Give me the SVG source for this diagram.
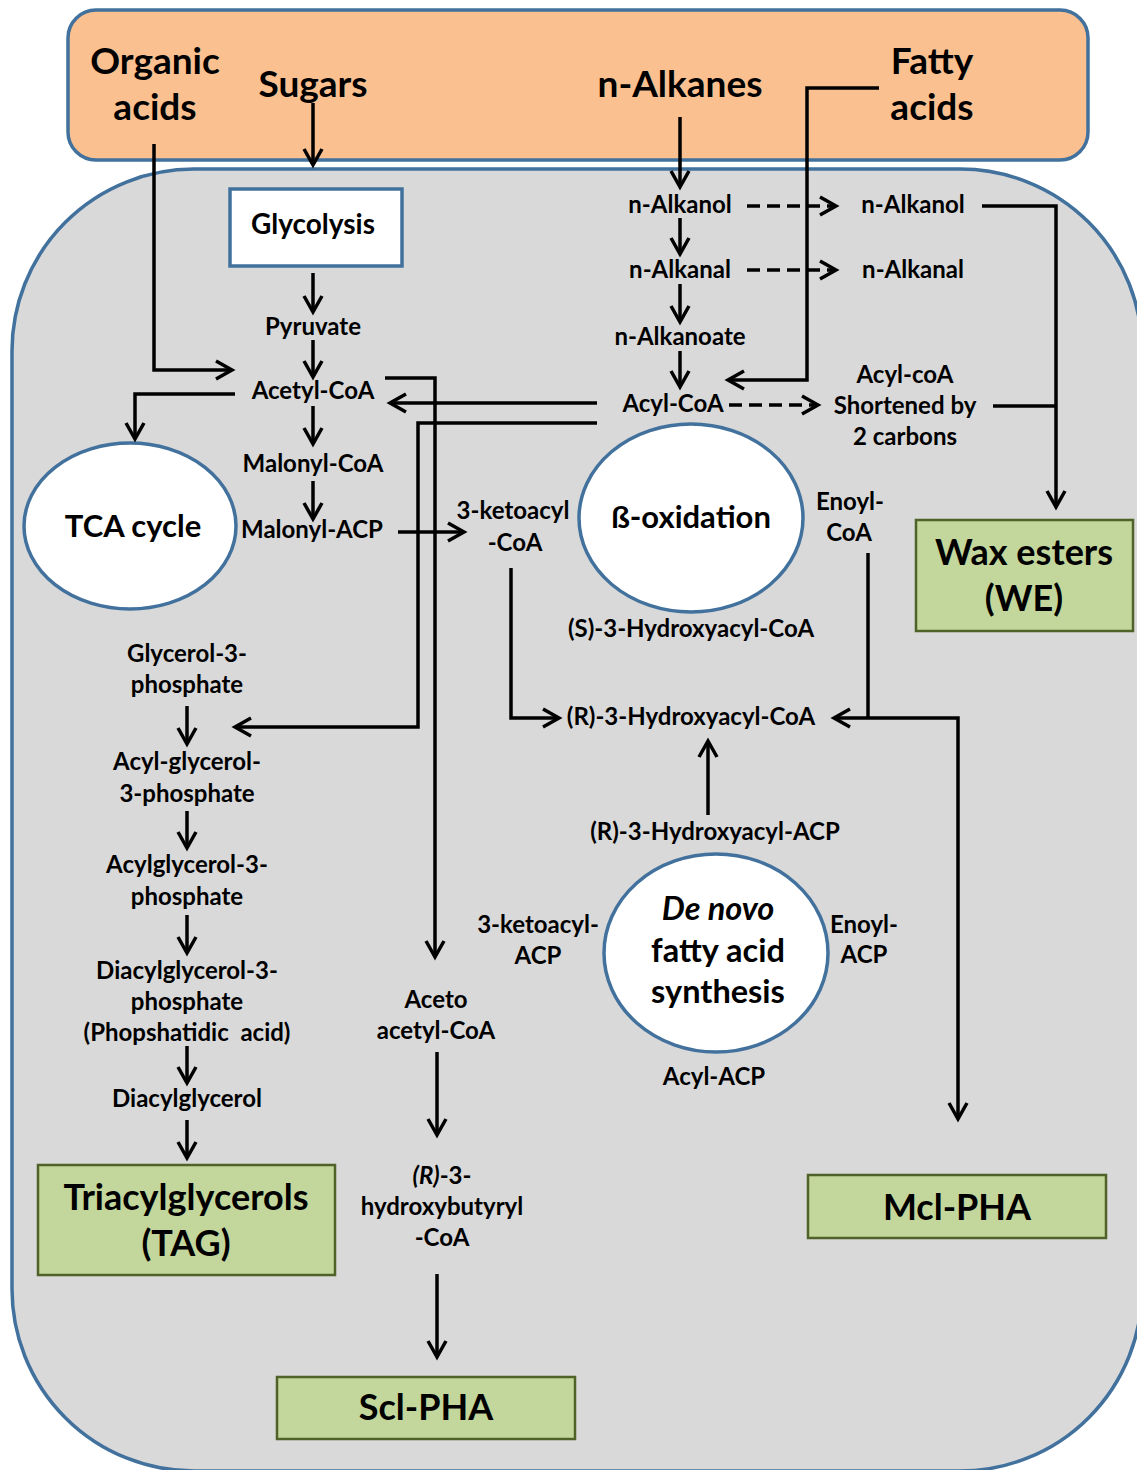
<svg xmlns="http://www.w3.org/2000/svg" width="1137" height="1470" viewBox="0 0 1137 1470">
<style>
.t{font-family:Lato,"Liberation Sans",sans-serif;font-weight:bold;fill:#000;text-anchor:middle}
.big{font-size:37px}
.lbl{font-size:24px}
.node{font-size:31px}
.dn{font-size:32.5px}
.prod{font-size:36px}
.c{fill:none;stroke:#000;stroke-width:3.5;marker-end:url(#ah)}
.nm{marker-end:none}
.d{stroke-dasharray:13 7}
.green{fill:#C3D69B;stroke:#4F6228;stroke-width:2.5}
.oval{fill:#fff;stroke:#41719C;stroke-width:3.5}
</style>
<defs>
<marker id="ah" viewBox="-20 -12 26 24" refX="0" refY="0" markerWidth="26" markerHeight="24" markerUnits="userSpaceOnUse" orient="auto-start-reverse">
<path d="M-16,-9 L0,0 L-16,9" fill="none" stroke="#000" stroke-width="3.5"/>
</marker>
</defs>

<g id="inputs">
<rect x="68" y="10" width="1020" height="150" rx="28" fill="#FAC090" stroke="#41719C" stroke-width="3.5"/>
<text class="t big" x="155" y="74">Organic</text>
<text class="t big" x="155" y="120">acids</text>
<text class="t big" x="313" y="97">Sugars</text>
<text class="t big" x="680" y="97">n-Alkanes</text>
<text class="t big" x="932" y="74">Fatty</text>
<text class="t big" x="932" y="120">acids</text>
</g>

<g id="cell">
<rect x="12" y="169" width="1130" height="1302" rx="182" fill="#D9D9D9" stroke="#41719C" stroke-width="3.5"/>
</g>

<g id="glycolysis">
<rect x="230" y="189" width="172" height="77" fill="#fff" stroke="#41719C" stroke-width="3.5"/>
<text class="t" x="313" y="234" font-size="28">Glycolysis</text>
</g>

<g id="pyruvate"><text class="t lbl" x="313" y="335">Pyruvate</text></g>
<g id="acetyl-coa"><text class="t lbl" x="313" y="399">Acetyl-CoA</text></g>
<g id="malonyl-coa"><text class="t lbl" x="313" y="472">Malonyl-CoA</text></g>
<g id="malonyl-acp"><text class="t lbl" x="312" y="538">Malonyl-ACP</text></g>
<g id="ketoacyl-coa"><text class="t lbl" x="513" y="519">3-ketoacyl</text><text class="t lbl" x="515" y="551">-CoA</text></g>

<g id="tca">
<ellipse cx="130" cy="526" rx="106" ry="83" class="oval"/>
<text class="t node" x="133" y="537">TCA cycle</text>
</g>

<g id="n-alkanol"><text class="t lbl" x="680" y="213">n-Alkanol</text></g>
<g id="n-alkanal"><text class="t lbl" x="680" y="278">n-Alkanal</text></g>
<g id="n-alkanoate"><text class="t lbl" x="680" y="345">n-Alkanoate</text></g>
<g id="acyl-coa"><text class="t lbl" x="673" y="412">Acyl-CoA</text></g>
<g id="n-alkanol-2"><text class="t lbl" x="913" y="213">n-Alkanol</text></g>
<g id="n-alkanal-2"><text class="t lbl" x="913" y="278">n-Alkanal</text></g>
<g id="acyl-coa-short">
<text class="t lbl" x="905" y="383">Acyl-coA</text>
<text class="t lbl" x="905" y="414">Shortened by</text>
<text class="t lbl" x="905" y="445">2 carbons</text>
</g>

<g id="wax-esters">
<rect x="916" y="520" width="217" height="111" class="green"/>
<text class="t prod" x="1024" y="565">Wax esters</text>
<text class="t prod" x="1024" y="611">(WE)</text>
</g>

<g id="beta-oxidation">
<ellipse cx="691" cy="518" rx="112" ry="94" class="oval"/>
<text class="t node" x="691" y="528">ß-oxidation</text>
</g>
<g id="enoyl-coa"><text class="t lbl" x="850" y="510">Enoyl-</text><text class="t lbl" x="849" y="541">CoA</text></g>
<g id="s-hydroxyacyl-coa"><text class="t lbl" x="691" y="637">(S)-3-Hydroxyacyl-CoA</text></g>
<g id="r-hydroxyacyl-coa"><text class="t lbl" x="691" y="725">(R)-3-Hydroxyacyl-CoA</text></g>
<g id="r-hydroxyacyl-acp"><text class="t lbl" x="715" y="840">(R)-3-Hydroxyacyl-ACP</text></g>

<g id="de-novo">
<ellipse cx="716" cy="953" rx="112" ry="99" class="oval"/>
<text class="t dn" x="718" y="920" font-style="italic">De novo</text>
<text class="t dn" x="718" y="962">fatty acid</text>
<text class="t dn" x="718" y="1003">synthesis</text>
</g>
<g id="ketoacyl-acp"><text class="t lbl" x="538" y="933">3-ketoacyl-</text><text class="t lbl" x="538" y="964">ACP</text></g>
<g id="enoyl-acp"><text class="t lbl" x="864" y="933">Enoyl-</text><text class="t lbl" x="864" y="963">ACP</text></g>
<g id="acyl-acp"><text class="t lbl" x="714" y="1085">Acyl-ACP</text></g>

<g id="mcl-pha">
<rect x="808" y="1175" width="298" height="63" class="green"/>
<text class="t prod" x="957" y="1220">Mcl-PHA</text>
</g>

<g id="glycerol-3-phosphate"><text class="t lbl" x="187" y="662">Glycerol-3-</text><text class="t lbl" x="187" y="693">phosphate</text></g>
<g id="acyl-glycerol-3-phosphate"><text class="t lbl" x="187" y="770">Acyl-glycerol-</text><text class="t lbl" x="187" y="802">3-phosphate</text></g>
<g id="acylglycerol-3-phosphate"><text class="t lbl" x="187" y="873">Acylglycerol-3-</text><text class="t lbl" x="187" y="905">phosphate</text></g>
<g id="diacylglycerol-3-phosphate">
<text class="t lbl" x="187" y="979">Diacylglycerol-3-</text>
<text class="t lbl" x="187" y="1010">phosphate</text>
<text class="t lbl" x="187" y="1041" xml:space="preserve">(Phopshatidic  acid)</text>
</g>
<g id="diacylglycerol"><text class="t lbl" x="187" y="1107">Diacylglycerol</text></g>
<g id="tag">
<rect x="38" y="1165" width="297" height="110" class="green"/>
<text class="t prod" x="186" y="1210">Triacylglycerols</text>
<text class="t prod" x="186" y="1256">(TAG)</text>
</g>

<g id="acetoacetyl-coa"><text class="t lbl" x="436" y="1008">Aceto</text><text class="t lbl" x="436" y="1039">acetyl-CoA</text></g>
<g id="hydroxybutyryl-coa">
<text class="t lbl" x="442" y="1184"><tspan font-style="italic">(R)</tspan>-3-</text>
<text class="t lbl" x="442" y="1215">hydroxybutyryl</text>
<text class="t lbl" x="442" y="1246">-CoA</text>
</g>
<g id="scl-pha">
<rect x="277" y="1377" width="298" height="62" class="green"/>
<text class="t prod" x="426" y="1420">Scl-PHA</text>
</g>

<g id="connectors">
<path class="c" d="M313,103 V165"/>
<path class="c" d="M154,144 V370 H232"/>
<path class="c" d="M313,273 V312"/>
<path class="c" d="M313,340 V377"/>
<path class="c" d="M235,394 H135 V439"/>
<path class="c" d="M313,406 V444"/>
<path class="c" d="M313,481 V519"/>
<path class="c" d="M398,532 H464"/>
<path class="c" d="M385,378 H435 V957"/>
<path class="c" d="M597,403 H390"/>
<path class="c" d="M597,423 H418 V727 H235"/>
<path class="c" d="M680,117 V187"/>
<path class="c" d="M680,218 V254"/>
<path class="c" d="M680,284 V322"/>
<path class="c" d="M680,351 V387"/>
<path class="c d" d="M747,206 H836"/>
<path class="c d" d="M747,270 H836"/>
<path class="c d" d="M729,405 H818"/>
<path class="c" d="M879,88 H807 V380 H728"/>
<path class="c" d="M982,206 H1056 V507"/>
<path class="c nm" d="M993,406 H1056"/>
<path class="c" d="M511,568 V718 H559"/>
<path class="c nm" d="M868,553 V718"/>
<path class="c" style="marker-start:url(#ah)" d="M834,718 H958 V1119"/>
<path class="c" d="M708,815 V741"/>
<path class="c" d="M437,1052 V1135"/>
<path class="c" d="M437,1274 V1357"/>
<path class="c" d="M187,706 V744"/>
<path class="c" d="M187,811 V848"/>
<path class="c" d="M187,915 V953"/>
<path class="c" d="M187,1046 V1083"/>
<path class="c" d="M187,1120 V1158"/>
</g>
</svg>
